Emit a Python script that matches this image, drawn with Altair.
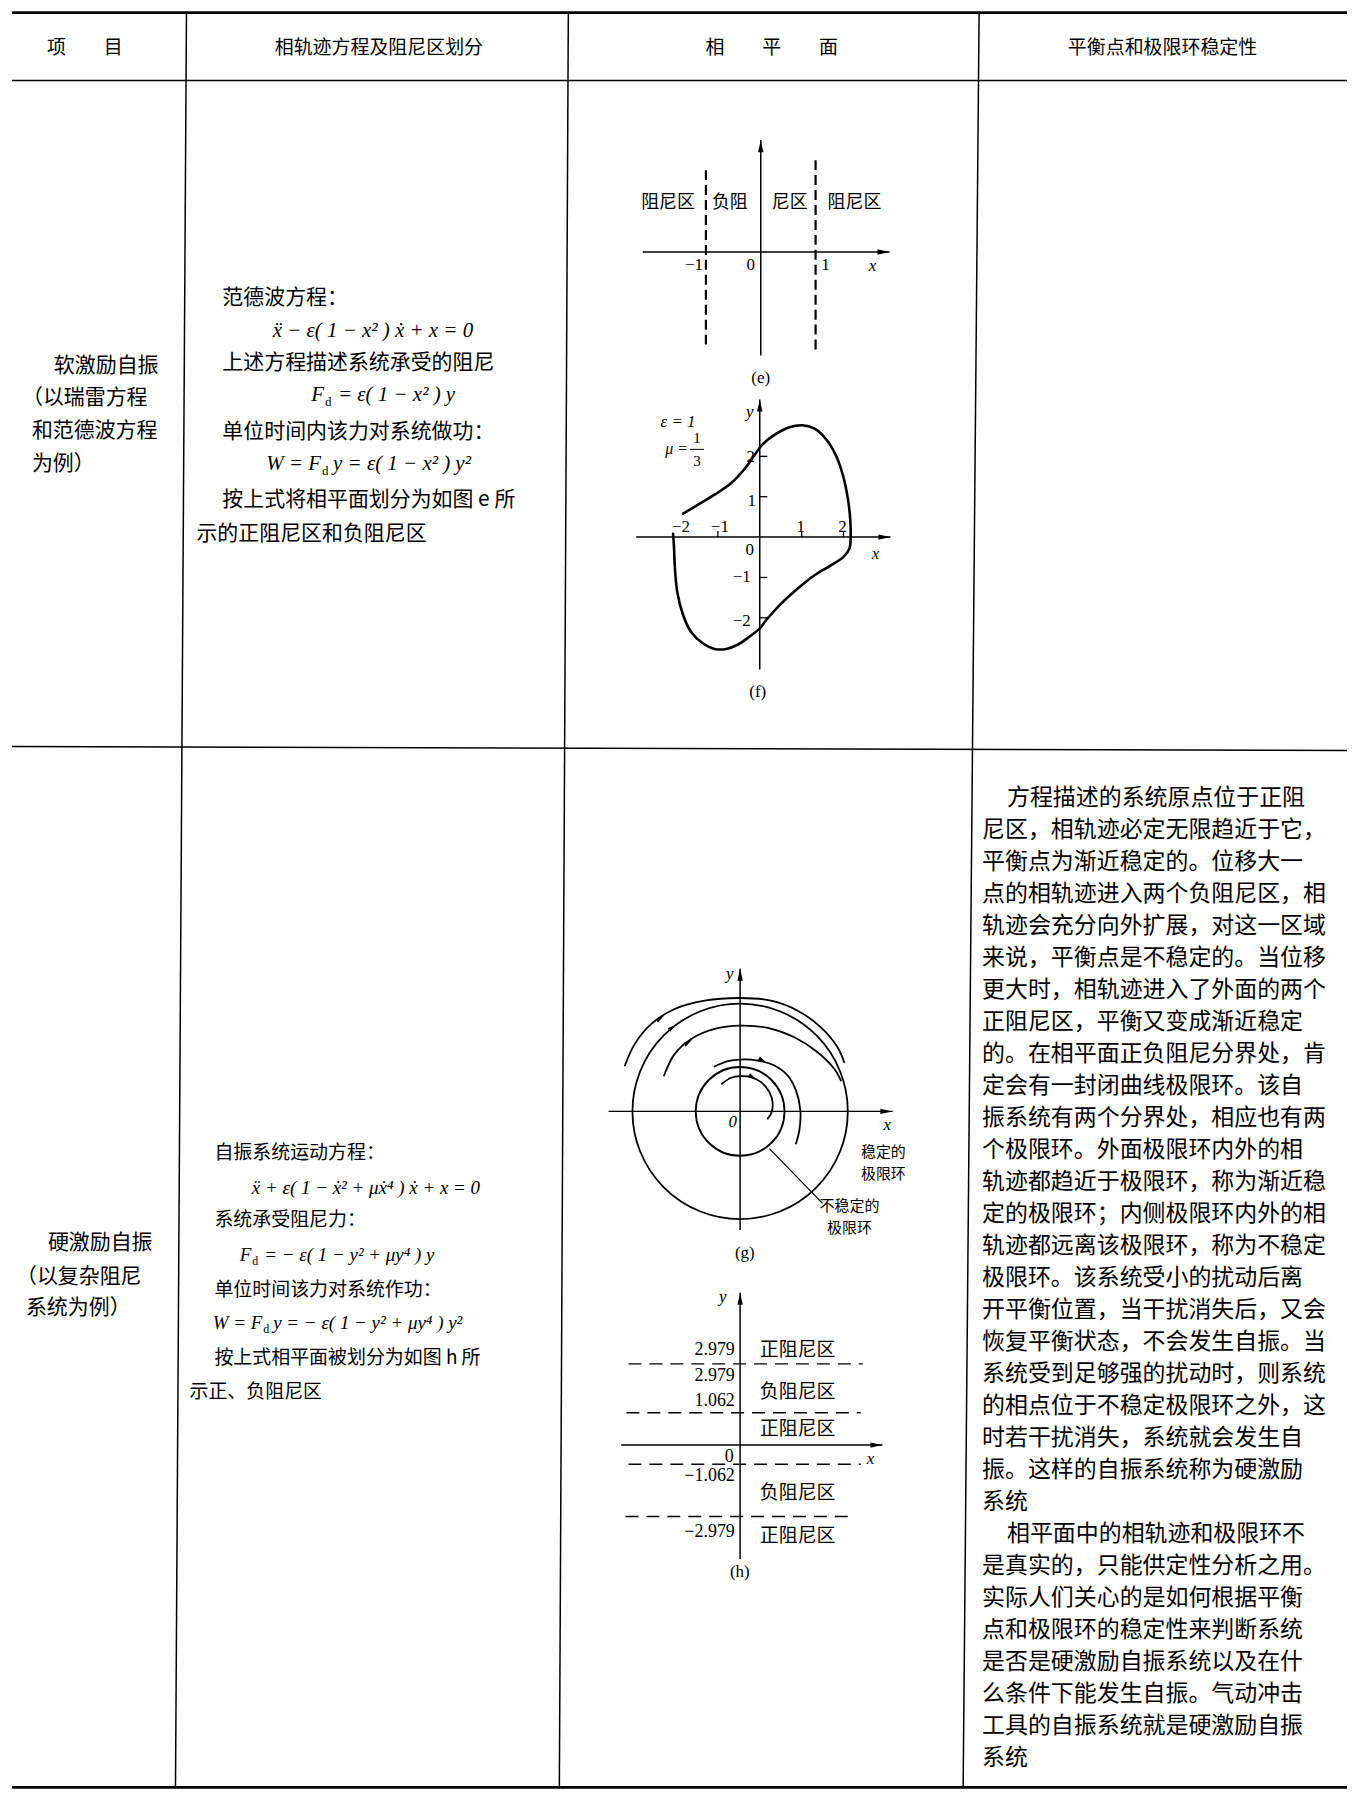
import altair as alt
import pandas as pd

CJK = "Noto Sans CJK SC"
SERIF = "Liberation Serif"
W, H, OFF = 1341, 1787, 8

# ================= DATA =================
# --- table frame (page pixels) ---
thick_x1 = [12, 12]
thick_y1 = [9, 1789]
thick_x2 = [1351, 1351]
thick_y2 = [9, 1789]
thin_x1 = [12, 12, 187, 570, 982]
thin_y1 = [77, 745, 9, 9, 9]
thin_x2 = [1351, 1351, 176, 561, 966]
thin_y2 = [77, 749, 1789, 1789, 1789]

# --- header ---
header_text = ["项　　目", "相轨迹方程及阻尼区划分", "相　　平　　面", "平衡点和极限环稳定性"]
header_x = [85, 380, 774, 1166]
header_y = [44, 44, 44, 44]

# --- column 1 ---
item_text = ["软激励自振", "（以瑞雷方程", "和范德波方程", "为例）",
             "硬激励自振", "（以复杂阻尼", "系统为例）"]
item_x = [54, 22, 32, 32, 48, 16, 26]
item_y = [363, 396, 429, 462, 1243, 1277, 1308]

# --- column 2 text ---
eq1_text = ["范德波方程：", "上述方程描述系统承受的阻尼", "单位时间内该力对系统做功：",
            "按上式将相平面划分为如图 e 所", "示的正阻尼区和负阻尼区"]
eq1_x = [223, 223, 223, 223, 197]
eq1_y = [295, 360, 430, 498, 532]
eq2_text = ["自振系统运动方程：", "系统承受阻尼力：", "单位时间该力对系统作功：",
            "按上式相平面被划分为如图 h 所", "示正、负阻尼区"]
eq2_x = [215, 215, 215, 215, 190]
eq2_y = [1153, 1220, 1290, 1358, 1392]

# --- formulas ---
f1_center = ["ẍ − ε( 1 − x² ) ẋ + x = 0"]
f1_center_x, f1_center_y = [374], [328]
f1_right = ["F", "W = F"]
f1_right_x, f1_right_y = [325, 322], [393, 462]
f1_left = ["= ε( 1 − x² ) y", "y = ε( 1 − x² ) y²"]
f1_left_x, f1_left_y = [339, 334], [393, 462]
f1_sub_x, f1_sub_y = [326, 323], [400, 469]

f2_center = ["ẍ + ε( 1 − ẋ² + μẋ⁴ ) ẋ + x = 0"]
f2_center_x, f2_center_y = [367], [1188]
f2_right = ["F", "W = F"]
f2_right_x, f2_right_y = [252, 263], [1255, 1323]
f2_left = ["= − ε( 1 − y² + μy⁴ ) y", "y = − ε( 1 − y² + μy⁴ ) y²"]
f2_left_x, f2_left_y = [265, 274], [1255, 1323]
f2_sub_x, f2_sub_y = [253, 264], [1261, 1329]

# --- column 4 text ---
desc_lines = [
    "方程描述的系统原点位于正阻",
    "尼区，相轨迹必定无限趋近于它，",
    "平衡点为渐近稳定的。位移大一",
    "点的相轨迹进入两个负阻尼区，相",
    "轨迹会充分向外扩展，对这一区域",
    "来说，平衡点是不稳定的。当位移",
    "更大时，相轨迹进入了外面的两个",
    "正阻尼区，平衡又变成渐近稳定",
    "的。在相平面正负阻尼分界处，肯",
    "定会有一封闭曲线极限环。该自",
    "振系统有两个分界处，相应也有两",
    "个极限环。外面极限环内外的相",
    "轨迹都趋近于极限环，称为渐近稳",
    "定的极限环；内侧极限环内外的相",
    "轨迹都远离该极限环，称为不稳定",
    "极限环。该系统受小的扰动后离",
    "开平衡位置，当干扰消失后，又会",
    "恢复平衡状态，不会发生自振。当",
    "系统受到足够强的扰动时，则系统",
    "的相点位于不稳定极限环之外，这",
    "时若干扰消失，系统就会发生自",
    "振。这样的自振系统称为硬激励",
    "系统",
    "相平面中的相轨迹和极限环不",
    "是真实的，只能供定性分析之用。",
    "实际人们关心的是如何根据平衡",
    "点和极限环的稳定性来判断系统",
    "是否是硬激励自振系统以及在什",
    "么条件下能发生自振。气动冲击",
    "工具的自振系统就是硬激励自振",
    "系统",
]
desc_indented = [0, 23]

# --- diagram (e): units of the x axis ---
e_axis_x1, e_axis_y1 = [-2.15, 0.0], [0.0, -1.89]
e_axis_x2, e_axis_y2 = [2.35, 0.0], [0.0, 2.04]
e_bound_x = [-1, 1]
e_bound_lo = [-1.69, -1.78]
e_bound_hi = [1.53, 1.67]
e_zone_text = ["阻尼区", "负阻", "尼区", "阻尼区"]
e_zone_x = [670, 732, 792, 857]
e_zone_y = [200, 200, 200, 200]
e_tick_text = ["−1", "0", "1"]
e_tick_x = [696, 753, 828]
e_tick_y = [262, 262, 262]

# --- diagram (f): limit cycle, eps=1, mu=1/3 ---
f_cx = [-1.83, -1.48, -1.08, -0.68, -0.33, -0.13, 0.05, 0.35, 0.71, 1.02, 1.30, 1.58,
        1.82, 2.00, 2.11, 2.16, 2.17, 2.14, 2.00, 1.70, 1.30, 0.90, 0.47, 0.15,
        0.00, -0.25, -0.52, -0.80, -1.08, -1.36, -1.64, -1.83, -1.97, -2.03, -2.05, -2.07]
f_cy = [0.58, 0.80, 1.05, 1.34, 1.73, 2.02, 2.28, 2.53, 2.72, 2.77, 2.69, 2.43,
        2.02, 1.48, 0.91, 0.45, 0.00, -0.29, -0.49, -0.70, -0.95, -1.28, -1.69, -2.06,
        -2.26, -2.47, -2.66, -2.77, -2.77, -2.63, -2.35, -1.93, -1.36, -0.70, -0.21, 0.08]
f_axis_x1, f_axis_y1 = [-2.95, 0.0], [0.0, -3.28]
f_axis_x2, f_axis_y2 = [3.12, 0.0], [0.0, 3.41]
f_xticks = [-1, 1, 2]
f_yticks = [-2, -1, 1, 2]
f_tick_text = ["−2", "−1", "1", "2", "0", "2", "1", "−1", "−2"]
f_tick_x = [683, 722, 803, 845, 752, 753, 754, 744, 744]
f_tick_y = [525, 525, 525, 525, 548, 455, 499, 575, 619]

# --- diagram (g): limit cycles and trajectories (offsets from origin) ---
g_cycle_r = [108, 44.5]
g_spiral = {
    "A": ([-115.6, -105.6, -89, -65.6, -35.6, 0, 31, 57.7, 81, 97.7, 104.4],
          [46, 67.7, 87.7, 102.7, 111, 113.7, 111, 101, 84.3, 64.3, 49.3]),
    "B": ([-76.3, -65.6, -49, -25.6, 0, 27.7, 54.4, 77.7, 94.4, 101],
          [36, 57.7, 72.7, 82.7, 86, 83.7, 74.3, 59.3, 42.7, 31]),
    "C": ([-25.6, -12.3, 0, 17.7, 34.4, 47.7, 56, 60.4, 59.4, 56],
          [45, 50.3, 52, 51, 46, 36, 21, 1, -19, -32.3]),
    "D": ([-18.3, -9, 0, 11, 21, 29.4, 32.7, 31, 27.7],
          [27.7, 33.7, 35.3, 34.3, 29.3, 19.3, 7.7, -2.3, -7.3]),
}
g_arrow_x = [-76, -63.8, -48, 27, 17]
g_arrow_y = [96.5, 87.1, 72, 48.5, 31.5]
g_arrow_dir = [323, 324, 326, 30, 31]
g_axis_x1, g_axis_y1 = [-132, 0], [0, -119]
g_axis_x2, g_axis_y2 = [153, 0], [0, 143]
g_leader_x1, g_leader_y1 = [29.4], [-37.3]
g_leader_x2, g_leader_y2 = [82.7], [-92.3]

# --- diagram (h): damping zone boundaries ---
h_levels = [2.979, 1.062, -1.062, -2.979]
h_x1 = [-112, -114, -112, -115]
h_x2 = [123, 121, 121, 116]
h_val_text = ["2.979", "2.979", "1.062", "0", "−1.062", "−2.979"]
h_val_x = [737, 737, 737, 736, 737, 737]
h_val_y = [1350, 1376, 1402, 1458, 1477, 1533]
h_zone_text = ["正阻尼区", "负阻尼区", "正阻尼区", "负阻尼区", "正阻尼区"]
h_zone_x = [762, 762, 762, 762, 762]
h_zone_y = [1350, 1392, 1430, 1494, 1537]
h_axis_x1, h_axis_y1 = [623, 742.3], [1445.7, 1560]
h_axis_x2, h_axis_y2 = [885, 742.3], [1445.7, 1293]

# --- axis arrow tips (page pixels) ---
tip_r_x = [892, 893, 895, 885]
tip_r_y = [249, 535, 1111, 1445.7]
tip_u_x = [763, 762, 742.3, 742.3]
tip_u_y = [137, 397, 968, 1293]

# --- small labels in diagrams ---
ital_text = ["x", "x", "y", "ε = 1", "y", "x", "0", "y", "x"]
ital_x = [875, 878, 752, 680, 732, 890, 735, 725, 873]
ital_y = [263, 552, 410, 420, 973, 1125, 1122, 1297, 1460]
cap_text = ["(e)", "(f)", "(g)", "(h)"]
cap_x = [763, 760, 747, 742]
cap_y = [375, 690, 1253, 1573]
g_lab_text = ["稳定的\n极限环", "不稳定的\n极限环"]
g_lab_x = [886, 852]
g_lab_y = [1152, 1206]

# ================= SCALES =================
def sc(domain, rng):
    return alt.Scale(domain=domain, range=rng, nice=False, zero=False)

PX = sc([OFF, OFF + W], [0, W])
PY = sc([OFF, OFF + H], [0, H])
EX = sc([-2, 2], [645, 865]); EY = sc([-2, 2], [351, 131])
FX = sc([-3, 3], [628, 880]); FY = sc([-3, 3], [648.5, 405.5])
GX = sc([-100, 100], [634.3, 834.3]); GY = sc([-100, 100], [1203, 1003])
HX = sc([-100, 100], [634.3, 834.3])
HY = sc([-2.979, -1.062, 1.062, 2.979], [1509.3, 1457, 1405.3, 1356.3])

ARROW_R = "M0,0L-2,-0.45L-2,0.45Z"
ARROW_U = "M0,0L-0.45,2L0.45,2Z"

# ================= BUILDERS =================
def rules(x1, y1, x2, y2, xs, ys, width, dash=None):
    df = pd.DataFrame({"x1": x1, "y1": y1, "x2": x2, "y2": y2})
    kw = dict(color="black", strokeWidth=width)
    if dash:
        kw["strokeDash"] = dash
    return alt.Chart(df).mark_rule(**kw).encode(
        x=alt.X("x1:Q", scale=xs, axis=None), x2=alt.X2("x2:Q"),
        y=alt.Y("y1:Q", scale=ys, axis=None), y2=alt.Y2("y2:Q"))


def texts(t, x, y, align="left", font=CJK, size=20, style="normal", weight="normal", **extra):
    df = pd.DataFrame({"t": t, "x": x, "y": y})
    return alt.Chart(df).mark_text(align=align, baseline="middle", font=font, fontSize=size,
                                   fontStyle=style, fontWeight=weight, color="black",
                                   **extra).encode(
        x=alt.X("x:Q", scale=PX, axis=None), y=alt.Y("y:Q", scale=PY, axis=None), text="t:N")


def curves(series, xs, ys, width, interp="catmull-rom"):
    rows = []
    for k, (xx, yy) in series.items():
        for i, (a, b) in enumerate(zip(xx, yy)):
            rows.append({"k": k, "i": i, "x": a, "y": b})
    df = pd.DataFrame(rows)
    return alt.Chart(df).mark_line(color="black", strokeWidth=width, interpolate=interp,
                                   strokeCap="round").encode(
        x=alt.X("x:Q", scale=xs, axis=None), y=alt.Y("y:Q", scale=ys, axis=None),
        order="i:Q", detail="k:N")


def tips(x, y, shape, size, xs=PX, ys=PY, ang=None):
    d = {"x": x, "y": y}
    if ang is not None:
        d["a"] = ang
    df = pd.DataFrame(d)
    enc = dict(x=alt.X("x:Q", scale=xs, axis=None), y=alt.Y("y:Q", scale=ys, axis=None))
    if ang is not None:
        enc["angle"] = alt.Angle("a:Q", scale=None)
    return alt.Chart(df).mark_point(shape=shape, filled=True, size=size, color="black",
                                    opacity=1, strokeWidth=0).encode(**enc)


layers = []
# table
layers.append(rules(thick_x1, thick_y1, thick_x2, thick_y2, PX, PY, 2.6))
layers.append(rules(thin_x1, thin_y1, thin_x2, thin_y2, PX, PY, 1.5))
# header and text columns
layers.append(texts(header_text, header_x, header_y, align="center", size=19))
layers.append(texts(item_text, item_x, item_y, size=21))
layers.append(texts(eq1_text, eq1_x, eq1_y, size=21))
layers.append(texts(eq2_text, eq2_x, eq2_y, size=19))
desc_x = [1010 if i in desc_indented else 985 for i in range(len(desc_lines))]
desc_y = [797 + 32.1 * i for i in range(len(desc_lines))]
layers.append(texts(desc_lines, desc_x, desc_y, size=23))

# formulas
layers.append(texts(f1_center, f1_center_x, f1_center_y, align="center", font=SERIF, size=21, style="italic"))
layers.append(texts(f1_right, f1_right_x, f1_right_y, align="right", font=SERIF, size=21, style="italic"))
layers.append(texts(f1_left, f1_left_x, f1_left_y, align="left", font=SERIF, size=21, style="italic"))
layers.append(texts(["d", "d"], f1_sub_x, f1_sub_y, align="left", font=SERIF, size=13))
layers.append(texts(f2_center, f2_center_x, f2_center_y, align="center", font=SERIF, size=19, style="italic"))
layers.append(texts(f2_right, f2_right_x, f2_right_y, align="right", font=SERIF, size=19, style="italic"))
layers.append(texts(f2_left, f2_left_x, f2_left_y, align="left", font=SERIF, size=19, style="italic"))
layers.append(texts(["d", "d"], f2_sub_x, f2_sub_y, align="left", font=SERIF, size=12))

# diagram e
layers.append(rules(e_axis_x1, e_axis_y1, e_axis_x2, e_axis_y2, EX, EY, 1.5))
layers.append(rules(e_bound_x, e_bound_lo, e_bound_x, e_bound_hi, EX, EY, 2.2, dash=[10, 5]))
layers.append(texts(e_zone_text, e_zone_x, e_zone_y, align="center", size=18))
layers.append(texts(e_tick_text, e_tick_x, e_tick_y, align="center", font=SERIF, size=17))

# diagram f
layers.append(rules(f_axis_x1, f_axis_y1, f_axis_x2, f_axis_y2, FX, FY, 1.5))
layers.append(rules(f_xticks, [0] * len(f_xticks), f_xticks, [0.15] * len(f_xticks), FX, FY, 1.3))
layers.append(rules([0] * len(f_yticks), f_yticks, [0.18] * len(f_yticks), f_yticks, FX, FY, 1.3))
layers.append(curves({"cycle": (f_cx, f_cy)}, FX, FY, 2.6))
layers.append(texts(f_tick_text, f_tick_x, f_tick_y, align="center", font=SERIF, size=17))
layers.append(texts(["μ ="], [690], [447], align="right", font=SERIF, size=16, style="italic"))
layers.append(texts(["1", "3"], [699, 699], [436, 459], align="center", font=SERIF, size=15))
layers.append(rules([692], [447], [706], [447], PX, PY, 1.0))

# diagram g
gdf = pd.DataFrame({"x": [0, 0], "y": [0, 0], "r": g_cycle_r})
layers.append(alt.Chart(gdf).transform_calculate(s="pow(2*datum.r, 2)").mark_point(
    shape="circle", filled=False, color="black", strokeWidth=1.8, opacity=1).encode(
    x=alt.X("x:Q", scale=GX, axis=None), y=alt.Y("y:Q", scale=GY, axis=None),
    size=alt.Size("s:Q", scale=None)))
layers.append(rules(g_axis_x1, g_axis_y1, g_axis_x2, g_axis_y2, GX, GY, 1.5))
layers.append(curves(g_spiral, GX, GY, 1.8))
layers.append(tips(g_arrow_x, g_arrow_y, ARROW_R, 90, GX, GY, g_arrow_dir))
layers.append(rules(g_leader_x1, g_leader_y1, g_leader_x2, g_leader_y2, GX, GY, 1.2))
layers.append(texts(g_lab_text, g_lab_x, g_lab_y, align="center", size=15,
                    lineBreak="\n", lineHeight=22))

# diagram h
layers.append(rules(h_axis_x1, h_axis_y1, h_axis_x2, h_axis_y2, PX, PY, 1.5))
layers.append(rules(h_x1, h_levels, h_x2, h_levels, HX, HY, 1.4, dash=[13, 8]))
layers.append(texts(h_val_text, h_val_x, h_val_y, align="right", font=SERIF, size=18))
layers.append(texts(h_zone_text, h_zone_x, h_zone_y, align="left", size=19))

# arrows, italic labels, captions
layers.append(tips(tip_r_x, tip_r_y, ARROW_R, 144))
layers.append(tips(tip_u_x, tip_u_y, ARROW_U, 144))
layers.append(texts(ital_text, ital_x, ital_y, align="center", font=SERIF, size=17, style="italic"))
layers.append(texts(cap_text, cap_x, cap_y, align="center", font=SERIF, size=17))

chart = alt.layer(*layers).resolve_scale(
    x="independent", y="independent"
).properties(
    width=W, height=H, padding=0, background="white"
).configure_view(strokeWidth=0)

chart.save("out.html", embed_options={"renderer": "svg", "actions": False})
